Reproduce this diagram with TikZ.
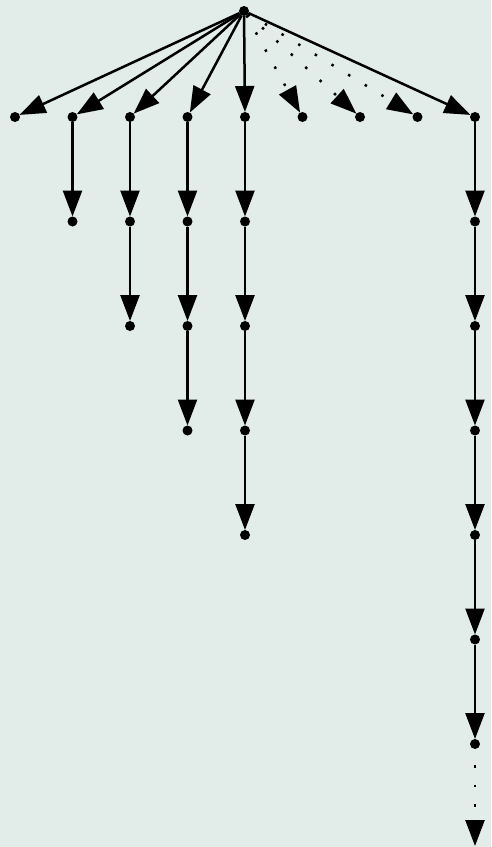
\documentclass[tikz,border=0pt]{standalone}
\usepackage{xcolor}
\usepackage{tikz}
\usetikzlibrary{positioning,arrows.meta,backgrounds}
\definecolor{bgcol}{RGB}{226,236,233}

\begin{document}
\begin{tikzpicture}[
			x=1pt, y=-1pt,
			node distance=94.5pt and 47.5pt,
			vertex/.style={circle, fill=black, inner sep=0pt, outer sep=0pt, minimum size=10pt},
			arrow/.style={-{Triangle[length=26pt,width=19pt]}, line width=2.5pt},
			dotarrow/.style={arrow, dash pattern=on 2.5pt off 17pt}
			]
	
	%% Fundo
	\fill[bgcol] (0,0) rectangle (491,847);
	\useasboundingbox (0,0) rectangle (491,847);
	
	%% Raiz e primeiro nível
	\node[vertex] (root) at (244,11) {};
	\node[vertex] (k1) at (15,117) {};
	\node[vertex, right=of k1] (k2) {};
	\node[vertex, right=of k2] (k3) {};
	\node[vertex, right=of k3] (k4) {};
	\node[vertex, right=of k4] (k5) {};
	\node[vertex, right=of k5] (k6) {};
	\node[vertex, right=of k6] (k7) {};
	\node[vertex, right=of k7] (k8) {};
	\node[vertex, right=of k8] (k9) {};
	
	%% Cadeias
	\node[vertex, below=of k2] (k2a) {};
	
	\node[vertex, below=of k3] (k3a) {};
	\node[vertex, below=of k3a] (k3b) {};
	
	\node[vertex, below=of k4] (k4a) {};
	\node[vertex, below=of k4a] (k4b) {};
	\node[vertex, below=of k4b] (k4c) {};
	
	\node[vertex, below=of k5] (k5a) {};
	\node[vertex, below=of k5a] (k5b) {};
	\node[vertex, below=of k5b] (k5c) {};
	\node[vertex, below=of k5c] (k5d) {};
	
	\node[vertex, below=of k9] (k9a) {};
	\node[vertex, below=of k9a] (k9b) {};
	\node[vertex, below=of k9b] (k9c) {};
	\node[vertex, below=of k9c] (k9d) {};
	\node[vertex, below=of k9d] (k9e) {};
	\node[vertex, below=of k9e] (k9f) {};
	\coordinate (k9end) at (475,846);
	
	%% Arestas da raiz
	\draw[arrow] (root) -- (k1);
	\draw[arrow] (root) -- (k2);
	\draw[arrow] (root) -- (k3);
	\draw[arrow] (root) -- (k4);
	\draw[arrow] (root) -- (k5);
	\draw[dotarrow] (root) -- (k6);
	\draw[dotarrow] (root) -- (k7);
	\draw[dotarrow] (root) -- (k8);
	\draw[arrow] (root) -- (k9);
	
	%% Arestas das cadeias
	\draw[arrow] (k2) -- (k2a);
	\draw[arrow] (k3) -- (k3a);
	\draw[arrow] (k3a) -- (k3b);
	\draw[arrow] (k4) -- (k4a);
	\draw[arrow] (k4a) -- (k4b);
	\draw[arrow] (k4b) -- (k4c);
	\draw[arrow] (k5) -- (k5a);
	\draw[arrow] (k5a) -- (k5b);
	\draw[arrow] (k5b) -- (k5c);
	\draw[arrow] (k5c) -- (k5d);
	\draw[arrow] (k9) -- (k9a);
	\draw[arrow] (k9a) -- (k9b);
	\draw[arrow] (k9b) -- (k9c);
	\draw[arrow] (k9c) -- (k9d);
	\draw[arrow] (k9d) -- (k9e);
	\draw[arrow] (k9e) -- (k9f);
	\draw[dotarrow, dash phase=-16pt] (k9f) -- (k9end);
	
\end{tikzpicture}
\end{document}
